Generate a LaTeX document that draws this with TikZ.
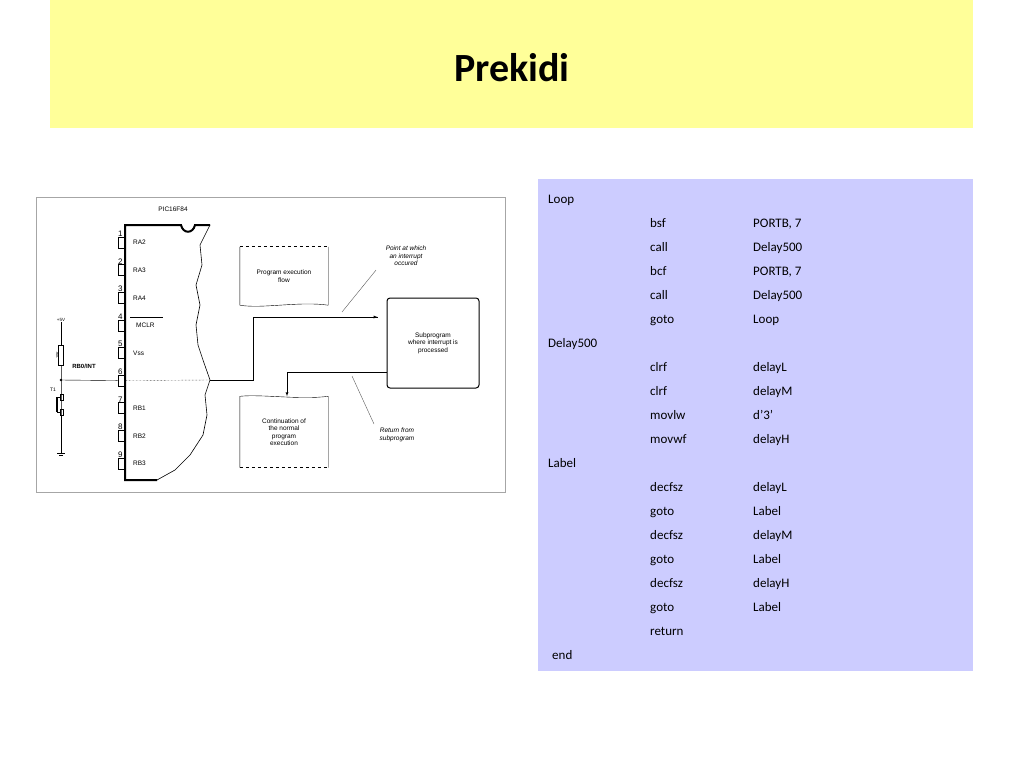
\documentclass[tikz,border=0pt]{standalone}
\usepackage{fontspec}
\setmainfont{Carlito}
\newfontfamily\arial{Liberation Sans}
\usetikzlibrary{positioning}
\definecolor{titlefill}{RGB}{255,255,153}
\definecolor{codefill}{RGB}{204,204,255}
\tikzset{
  small/.style={font=\arial\fontsize{6.5}{7.5}\selectfont, inner sep=0pt, align=center},
  note/.style={small, font=\arial\itshape\fontsize{6.5}{7.5}\selectfont},
  pinbox/.style={draw, line width=0.5pt, minimum width=7pt, minimum height=11pt, inner sep=0pt},
  code/.style={font=\fontsize{13}{15}\selectfont, anchor=base west, inner sep=0pt},
}
\begin{document}
\begin{tikzpicture}[x=1pt,y=-1pt]
\useasboundingbox (0,0) rectangle (1024,768);
% title
\fill[titlefill] (50,0) rectangle (973,128);
\node[font=\bfseries\fontsize{40}{44}\selectfont] (title) at (512,68) {Prekidi};
% code listing
\fill[codefill] (538,179) rectangle (973,671);
\foreach \lab/\y in {Loop/203, Delay500/347, Label/467}
  \node[code] at (548,\y) {\lab};
\node[code] at (552,659) {end};
\foreach \op/\arg/\y in {bsf/{PORTB, 7}/227, call/Delay500/251, bcf/{PORTB, 7}/275,
  call/Delay500/299, goto/Loop/323, clrf/delayL/371, clrf/delayM/395, movlw/d'3'/419,
  movwf/delayH/443, decfsz/delayL/491, goto/Label/515, decfsz/delayM/539,
  goto/Label/563, decfsz/delayH/587, goto/Label/611, return//635}
{
  \node[code] at (650,\y) {\op};
  \node[code] at (753,\y) {\arg};
}
% circuit frame
\draw[gray!70, line width=1pt] (36,197) rectangle (505,492);
\node[small] (chipname) at (173,209) {PIC16F84};
% chip
\draw[line width=2pt] (210,225) -- (195,225) .. controls (193,234) and (183,234) .. (181,225)
  -- (125,225) -- (125,480) -- (157,480);
\draw[line width=0.6pt] (210,225) -- (200,245) -- (202,265) -- (196,285) -- (200,305)
  -- (196,325) -- (198,345) -- (203,360) -- (210,380) -- (205,395) -- (207,415)
  -- (203,435) -- (190,455) -- (175,470) -- (157,480);
\foreach \n/\name in {1/RA2, 2/RA3, 3/RA4/TOCKI, 4/, 5/Vss, 6/, 7/RB1, 8/RB2, 9/RB3}
{
  \node[pinbox, anchor=east] (pin\n) at (125,215+27.6*\n) {};
  \node[small, font=\arial\fontsize{8}{9}\selectfont, anchor=south] at ([xshift=-1pt]pin\n.north) {\n};
  \node[small, anchor=west] at (133,215+27.6*\n) {\name};
}
\node[small, anchor=west] (mclr) at (136,325) {MCLR};
\draw[line width=0.5pt] (130,317) -- (163,317);
% external circuit
\node[small, font=\arial\fontsize{4.5}{5}\selectfont] (vcc) at (61,320) {+5V};
\node[draw, minimum width=5pt, minimum height=20pt, inner sep=0pt] (res) at (61,355) {};
\node[small, font=\arial\fontsize{4}{5}\selectfont, rotate=90, left=2pt of res.center, anchor=south] {10K};
\coordinate (junc) at (61,380);
\coordinate (gnd) at (61,453);
\draw (vcc) -- (res) -- (junc) -- (gnd);
\draw (junc) -- (pin6);
\fill (junc) circle (1.3pt);
\draw (gnd) ++(-4,0) -- ++(8,0) ++(-6,2) -- ++(4,0);
\node[small, font=\arial\bfseries\fontsize{6}{7}\selectfont] (rbint) at (84,366) {RB0/INT};
\node[small, font=\arial\fontsize{5}{6}\selectfont] (t1) at (53,390) {T1};
\draw[line width=1.5pt] (57,397) -- (57,412);
\draw (57,397) -- (61,397) (57,412) -- (61,412);
\draw[line width=1pt] (60,394) rectangle (63,400) (60,409) rectangle (63,415);
% flow boxes
\node[small, minimum width=88pt, minimum height=58pt] (flow) at (284,276) {Program execution\\flow};
\draw[dashed, line width=1pt] (flow.north west) -- (flow.north east);
\draw (flow.north west) -- (flow.south west) .. controls (262,309) and (300,301) .. (flow.south east) -- (flow.north east);
\node[small, minimum width=88pt, minimum height=71pt] (cont) at (284,432) {Continuation of\\the normal\\program\\execution};
\draw[dashed, line width=1pt] (cont.south west) -- (cont.south east);
\draw (cont.south west) -- (cont.north west) .. controls (262,394) and (300,400) .. (cont.north east) -- (cont.south east);
\node[small, draw, line width=1pt, rounded corners=3pt, minimum width=92pt, minimum height=90pt] (sub) at (433,343) {Subprogram\\where interrupt is\\processed};
% connectors
\coordinate (bend) at (253,380);
\draw[densely dotted] (pin6) -- (210,380);
\draw (210,380) -- (bend) |- ([xshift=-9pt]sub.west |- 0,317) coordinate (inarr);
\draw[-latex] (bend |- 0,317) -- (inarr);
\draw[-latex] (sub.west |- 0,372) -| (cont.north -| 287,0);
% notes
\node[note] (pointnote) at (406,256) {Point at which\\an interrupt\\occured};
\draw[gray!70!black, line width=0.4pt] (pointnote.south) ++(-30,4) -- (342,312);
\node[note] (retnote) at (397,435) {Return from\\subprogram};
\draw[gray!70!black, line width=0.4pt] (352,376) -- (374,424);
\end{tikzpicture}
\end{document}
